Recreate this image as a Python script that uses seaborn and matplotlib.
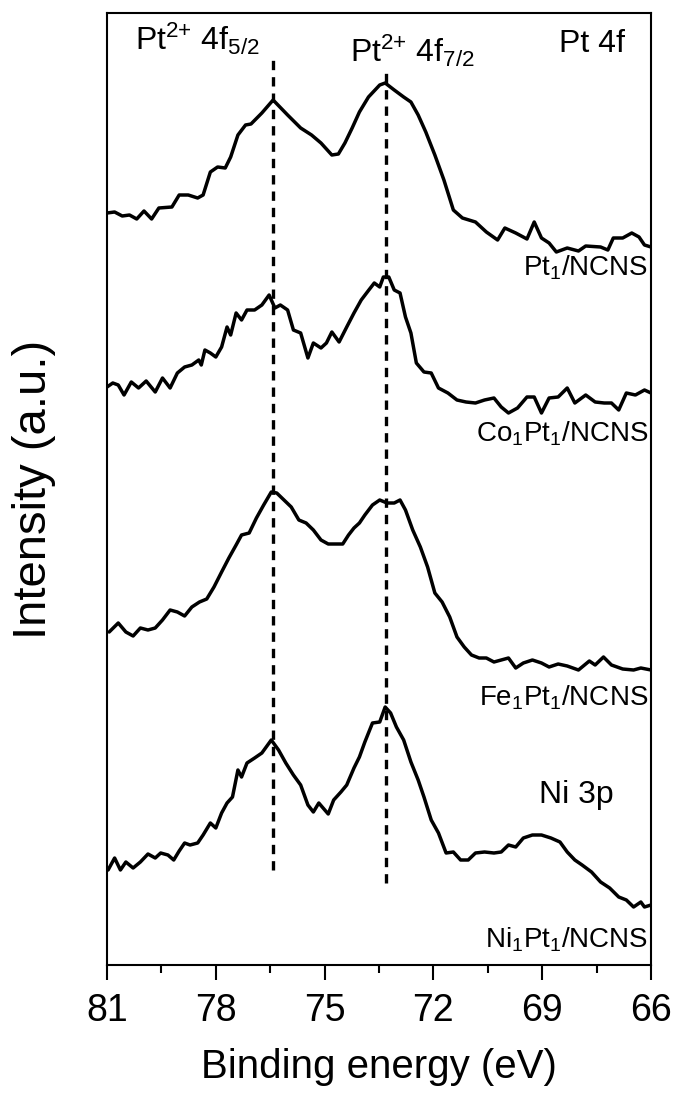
import matplotlib
matplotlib.use("Agg")
import matplotlib.pyplot as plt
from matplotlib.ticker import MultipleLocator
import pandas as pd
import seaborn as sns

# Pt 4f XPS spectra (binding energy in eV, stacked intensity in a.u.)
energy_pt1 = [81.0, 80.79, 80.58, 80.38, 80.18, 79.98, 79.77, 79.57, 79.21, 79.01,
              78.76, 78.50, 78.35, 78.15, 77.95, 77.74, 77.59, 77.39, 77.18, 77.03,
              76.73, 76.42, 76.02, 75.66, 75.36, 75.10, 74.80, 74.62, 74.44, 74.24,
              74.04, 73.79, 73.48, 73.33, 73.08, 72.82, 72.62, 72.42, 72.21, 71.96,
              71.71, 71.45, 71.20, 70.84, 70.54, 70.23, 70.03, 69.73, 69.42, 69.22,
              69.02, 68.81, 68.61, 68.31, 68.00, 67.80, 67.39, 67.19, 67.04, 66.78,
              66.53, 66.33, 66.18, 66.0]
intensity_pt1 = [752, 753, 749, 750, 746, 754, 746, 757, 758, 770,
                 770, 767, 770, 793, 798, 797, 808, 830, 840, 841,
                 852, 865, 850, 837, 830, 822, 810, 811, 822, 837,
                 853, 868, 880, 882, 875, 868, 863, 850, 833, 810,
                 785, 755, 747, 743, 733, 725, 737, 732, 726, 743,
                 727, 722, 713, 717, 714, 719, 718, 715, 727, 727,
                 732, 728, 720, 718]

energy_co = [81.0, 80.84, 80.69, 80.53, 80.33, 80.13, 79.92, 79.67, 79.47, 79.26,
             79.06, 78.86, 78.66, 78.47, 78.40, 78.30, 78.15, 78.00, 77.84, 77.69,
             77.59, 77.44, 77.29, 77.14, 76.93, 76.73, 76.53, 76.37, 76.22, 76.02,
             75.86, 75.66, 75.46, 75.31, 75.10, 74.95, 74.80, 74.60, 74.39, 74.19,
             73.99, 73.78, 73.63, 73.48, 73.38, 73.23, 73.08, 72.92, 72.77, 72.62,
             72.47, 72.26, 72.06, 71.86, 71.60, 71.35, 71.10, 70.84, 70.59, 70.33,
             70.13, 69.93, 69.68, 69.42, 69.22, 69.02, 68.81, 68.56, 68.31, 68.10,
             67.80, 67.54, 67.29, 67.09, 66.89, 66.68, 66.43, 66.18, 66.0]
intensity_co = [578, 582, 580, 570, 583, 577, 584, 573, 587, 577,
                592, 598, 600, 605, 600, 615, 612, 608, 618, 638,
                630, 652, 645, 655, 655, 660, 670, 657, 660, 655,
                635, 632, 607, 622, 617, 622, 633, 623, 638, 652,
                665, 675, 682, 678, 688, 688, 675, 672, 648, 632,
                602, 593, 592, 577, 572, 565, 563, 562, 565, 567,
                558, 552, 557, 568, 568, 552, 567, 568, 577, 562,
                570, 563, 562, 562, 555, 572, 570, 575, 572]

energy_fe = [80.94, 80.69, 80.48, 80.28, 80.08, 79.87, 79.67, 79.47, 79.26, 79.06,
             78.86, 78.66, 78.45, 78.25, 78.05, 77.84, 77.64, 77.44, 77.29, 77.08,
             76.88, 76.68, 76.47, 76.32, 76.12, 75.92, 75.71, 75.51, 75.31, 75.10,
             74.90, 74.50, 74.34, 74.19, 74.04, 73.89, 73.68, 73.48, 73.28, 73.08,
             72.92, 72.77, 72.57, 72.36, 72.16, 71.96, 71.76, 71.55, 71.35, 71.15,
             70.95, 70.74, 70.54, 70.33, 70.13, 69.93, 69.73, 69.52, 69.27, 69.02,
             68.81, 68.56, 68.31, 68.00, 67.70, 67.54, 67.31, 67.09, 66.78, 66.48,
             66.28, 66.0]
intensity_fe = [333, 342, 333, 329, 337, 335, 337, 345, 355, 353,
                349, 358, 363, 366, 378, 393, 407, 420, 430, 432,
                447, 460, 473, 472, 465, 458, 445, 442, 435, 425,
                421, 421, 430, 437, 442, 450, 460, 465, 462, 462,
                465, 455, 435, 418, 398, 372, 363, 348, 328, 318,
                310, 307, 307, 303, 305, 307, 297, 302, 305, 302,
                298, 301, 299, 295, 304, 300, 308, 300, 296, 295,
                297, 295]

energy_ni = [80.97, 80.79, 80.63, 80.48, 80.28, 80.08, 79.87, 79.67, 79.52, 79.32,
             79.16, 79.01, 78.86, 78.71, 78.50, 78.35, 78.15, 78.00, 77.84, 77.69,
             77.54, 77.39, 77.29, 77.14, 76.93, 76.73, 76.47, 76.27, 76.07, 75.86,
             75.66, 75.46, 75.31, 75.16, 74.90, 74.75, 74.55, 74.39, 74.19, 74.04,
             73.89, 73.68, 73.48, 73.33, 73.18, 73.02, 72.82, 72.62, 72.42, 72.26,
             72.06, 71.86, 71.65, 71.45, 71.25, 71.04, 70.84, 70.59, 70.33, 70.13,
             69.93, 69.73, 69.52, 69.27, 69.02, 68.76, 68.51, 68.31, 68.10, 67.90,
             67.64, 67.39, 67.14, 66.89, 66.68, 66.48, 66.28, 66.18, 66.0]
intensity_ni = [95, 107, 95, 103, 97, 103, 111, 107, 112, 110,
                105, 114, 122, 120, 122, 130, 142, 137, 152, 162,
                168, 195, 188, 202, 207, 212, 225, 215, 202, 190,
                180, 160, 153, 162, 151, 165, 173, 180, 197, 208,
                223, 242, 243, 258, 252, 238, 225, 203, 185, 168,
                145, 132, 112, 113, 105, 105, 112, 113, 112, 113,
                120, 118, 127, 130, 130, 127, 123, 113, 105, 100,
                93, 83, 77, 68, 65, 58, 63, 58, 60]

sample_names = ["Pt$_1$/NCNS", "Co$_1$Pt$_1$/NCNS", "Fe$_1$Pt$_1$/NCNS", "Ni$_1$Pt$_1$/NCNS"]

# Pt2+ 4f5/2 and 4f7/2 reference positions and the extent of their guide lines
peak_energies = [76.43, 73.32]
peak_line_low = [95, 82]
peak_line_high = [905, 892]
peak_names = ["Pt$^{2{+}}$ 4f$_{5/2}$", "Pt$^{2{+}}$ 4f$_{7/2}$"]

xtick_values = [81, 78, 75, 72, 69, 66]

sns.set_theme(style="ticks")
plt.rcParams["font.family"] = ["Liberation Sans", "DejaVu Sans"]
plt.rcParams["mathtext.default"] = "regular"
plt.rcParams["text.color"] = "black"
plt.rcParams["axes.labelcolor"] = "black"
plt.rcParams["xtick.color"] = "black"
plt.rcParams["ytick.color"] = "black"
plt.rcParams["axes.edgecolor"] = "black"

frames = []
for name, e, i in zip(sample_names,
                      [energy_pt1, energy_co, energy_fe, energy_ni],
                      [intensity_pt1, intensity_co, intensity_fe, intensity_ni]):
    frames.append(pd.DataFrame({"energy": e, "intensity": i, "sample": name}))
spectra = pd.concat(frames, ignore_index=True)

fig = plt.figure(figsize=(6.78, 11.02), dpi=100)
ax = fig.add_axes([107 / 678, 1 - 965 / 1102, 544 / 678, 952 / 1102])

sns.lineplot(data=spectra, x="energy", y="intensity", hue="sample",
             palette=["black"] * 4, linewidth=2.5, legend=False, ax=ax,
             estimator=None)

for e, lo, hi in zip(peak_energies, peak_line_low, peak_line_high):
    ax.plot([e, e], [lo, hi], color="black", linewidth=2.4,
            linestyle=(0, (2.8, 2.1)))

ax.set_xlim(81, 66)
ax.set_ylim(0, 952)
ax.set_xticks(xtick_values)
ax.xaxis.set_minor_locator(MultipleLocator(1.5))
ax.set_yticks([])
ax.tick_params(axis="x", which="major", direction="out", length=11, width=1.5,
               labelsize=27, pad=9, colors="black")
ax.tick_params(axis="x", which="minor", direction="out", length=6, width=1.5)
for s in ax.spines.values():
    s.set_linewidth(1.5)
    s.set_color("black")
    s.set_visible(True)

ax.set_xlabel("Binding energy (eV)", fontsize=29, labelpad=14)
ax.set_ylabel("Intensity (a.u.)", fontsize=34)
ax.yaxis.set_label_coords(-0.094, 0.5)

# peak annotations
ax.text(80.23, 915, peak_names[0], fontsize=23, ha="left", va="baseline")
ax.text(74.30, 903, peak_names[1], fontsize=23, ha="left", va="baseline")
ax.text(66.72, 913, "Pt 4f", fontsize=23, ha="right", va="baseline")

# sample labels
for name, yb in zip(sample_names, [690, 523, 260, 17]):
    ax.text(66.08, yb, name, fontsize=20, ha="right", va="baseline")
ax.text(68.05, 162, "Ni 3p", fontsize=23, ha="center", va="baseline")

fig.savefig("out.png", dpi=100)
